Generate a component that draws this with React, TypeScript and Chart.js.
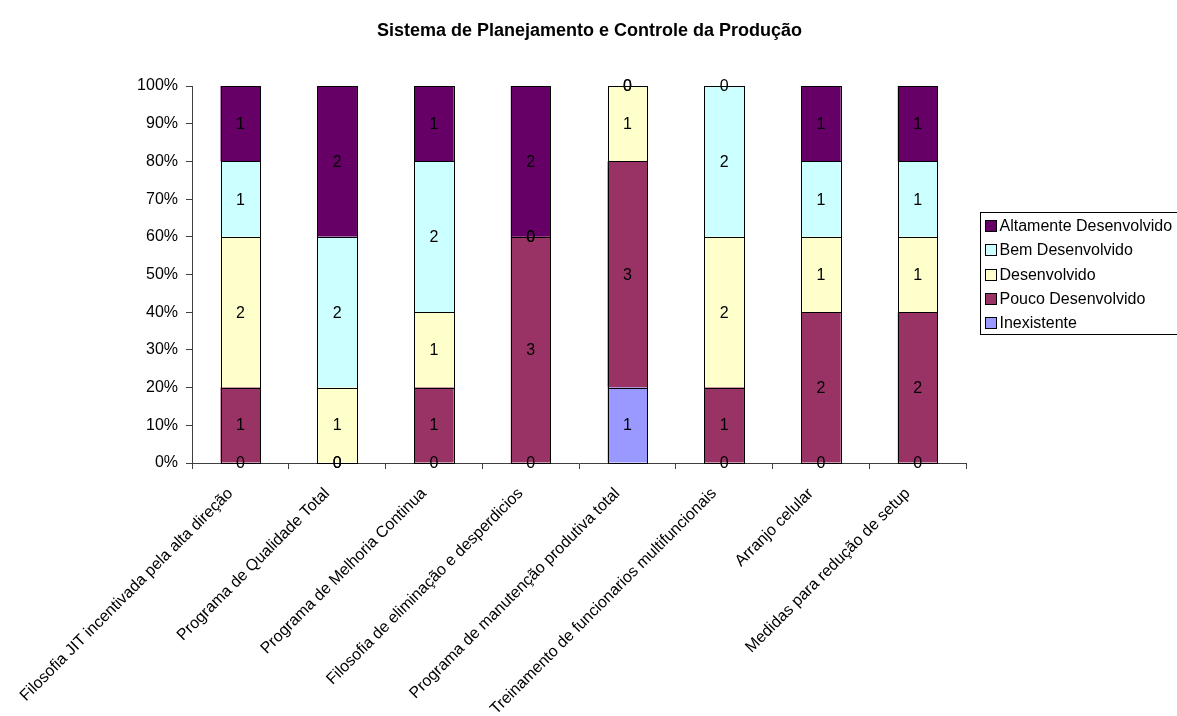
import React, { useEffect, useRef } from "react";
import { Chart, registerables } from "chart.js";

Chart.register(...registerables);

const TITLE = "Sistema de Planejamento e Controle da Produção";

const CATEGORIES = [
  "Filosofia JIT incentivada pela alta direção",
  "Programa de Qualidade Total",
  "Programa de Melhoria Continua",
  "Filosofia de eliminação e desperdicios",
  "Programa de manutenção produtiva total",
  "Treinamento de funcionarios multifuncionais",
  "Arranjo celular",
  "Medidas para redução de setup",
];

const SERIES_NAMES = [
  "Inexistente",
  "Pouco Desenvolvido",
  "Desenvolvido",
  "Bem Desenvolvido",
  "Altamente Desenvolvido",
];

const INEXISTENTE = [0, 0, 0, 0, 1, 0, 0, 0];
const POUCO_DESENVOLVIDO = [1, 0, 1, 3, 3, 1, 2, 2];
const DESENVOLVIDO = [2, 1, 1, 0, 1, 2, 1, 1];
const BEM_DESENVOLVIDO = [1, 2, 2, 0, 0, 2, 1, 1];
const ALTAMENTE_DESENVOLVIDO = [1, 2, 1, 2, 0, 0, 1, 1];

const SERIES_COLORS = ["#9999FF", "#993366", "#FFFFCC", "#CCFFFF", "#660066"];

const Y_MIN = 0;
const Y_MAX = 100;
const Y_STEP = 10;

const FONT = "'Liberation Sans', Arial, sans-serif";
const AXIS_COLOR = "#404040";

export default function App() {
  const ref = useRef<HTMLCanvasElement | null>(null);

  useEffect(() => {
    const canvas = ref.current;
    if (!canvas) return;

    const counts = [
      INEXISTENTE,
      POUCO_DESENVOLVIDO,
      DESENVOLVIDO,
      BEM_DESENVOLVIDO,
      ALTAMENTE_DESENVOLVIDO,
    ];
    const totals = CATEGORIES.map((_, i) =>
      counts.reduce((s, arr) => s + arr[i], 0)
    );

    const datasets = counts.map((arr, k) => ({
      label: SERIES_NAMES[k],
      data: arr.map((v, i) => (totals[i] ? (v / totals[i]) * 100 : 0)),
      counts: arr,
      backgroundColor: SERIES_COLORS[k],
      borderWidth: 0,
      categoryPercentage: 1,
      barPercentage: 0.41,
    }));

    const titlePlugin = {
      id: "excelTitle",
      afterDraw(chart: any) {
        const ctx = chart.ctx;
        ctx.save();
        ctx.font = `bold 18px ${FONT}`;
        ctx.fillStyle = "#000";
        ctx.textAlign = "center";
        ctx.textBaseline = "middle";
        ctx.fillText(TITLE, chart.width / 2 + 1, 31);
        ctx.restore();
      },
    };

    // Excel-style rotated category labels, anchored under each tick
    const xLabelPlugin = {
      id: "xLabels",
      afterDraw(chart: any) {
        const ctx = chart.ctx;
        const xs = chart.scales.x;
        ctx.save();
        ctx.font = `16px ${FONT}`;
        ctx.fillStyle = "#000";
        ctx.textAlign = "right";
        ctx.textBaseline = "middle";
        (chart.data.labels as string[]).forEach((lab, i) => {
          const x = xs.getPixelForTick(i) - 10;
          const y = xs.top + 28;
          ctx.save();
          ctx.translate(x, y);
          ctx.rotate(-Math.PI / 4);
          ctx.fillText(lab, 0, 0);
          ctx.restore();
        });
        ctx.restore();
      },
    };

    const labelPlugin = {
      id: "valueLabels",
      afterDatasetsDraw(chart: any) {
        const ctx = chart.ctx;
        ctx.save();
        ctx.strokeStyle = "#000";
        ctx.lineWidth = 1;
        chart.data.datasets.forEach((_ds: any, di: number) => {
          const meta = chart.getDatasetMeta(di);
          meta.data.forEach((el: any) => {
            const p = el.getProps(["x", "y", "base", "width"], true);
            const top = Math.round(Math.min(p.y, p.base));
            const bot = Math.round(Math.max(p.y, p.base));
            if (bot - top < 1) return;
            const l = Math.round(p.x - p.width / 2);
            const r = Math.round(p.x + p.width / 2);
            ctx.strokeRect(l + 0.5, top + 0.5, r - l, bot - top);
          });
        });
        ctx.font = `16px ${FONT}`;
        ctx.fillStyle = "#000";
        ctx.textAlign = "center";
        ctx.textBaseline = "middle";
        chart.data.datasets.forEach((ds: any, di: number) => {
          const meta = chart.getDatasetMeta(di);
          meta.data.forEach((el: any, i: number) => {
            const p = el.getProps(["x", "y", "base"], true);
            const cy = (p.y + p.base) / 2;
            ctx.fillText(String(ds.counts[i]), p.x, cy + 1);
          });
        });
        ctx.restore();
      },
    };

    const legendPlugin = {
      id: "excelLegend",
      afterDraw(chart: any) {
        const ctx = chart.ctx;
        ctx.save();
        ctx.strokeStyle = "#000";
        ctx.lineWidth = 1;
        ctx.fillStyle = "#fff";
        ctx.fillRect(980.5, 212.5, 210, 122);
        ctx.strokeRect(980.5, 212.5, 210, 122);
        ctx.font = `16px ${FONT}`;
        ctx.textAlign = "left";
        ctx.textBaseline = "middle";
        const ds = chart.data.datasets.slice().reverse();
        ds.forEach((d: any, k: number) => {
          const y = 225.5 + k * 24.3;
          const sy = Math.round(y - 5.5) + 0.5;
          ctx.fillStyle = d.backgroundColor;
          ctx.fillRect(985.5, sy, 11, 11);
          ctx.strokeStyle = "#000";
          ctx.strokeRect(985.5, sy, 11, 11);
          ctx.fillStyle = "#000";
          ctx.fillText(d.label, 999.5, y + 1);
        });
        ctx.restore();
      },
    };

    const chart = new Chart(canvas, {
      type: "bar",
      data: { labels: CATEGORIES, datasets: datasets as any },
      options: {
        responsive: false,
        animation: false,
        layout: { padding: { top: 86, right: 211, left: 0, bottom: 0 } },
        plugins: {
          legend: { display: false },
          title: { display: false },
          tooltip: { enabled: false },
        },
        scales: {
          x: {
            stacked: true,
            offset: true,
            grid: {
              offset: true,
              drawOnChartArea: false,
              drawTicks: true,
              tickLength: 6,
              color: AXIS_COLOR,
            },
            border: { color: AXIS_COLOR, width: 1 },
            ticks: {
              display: false,
              autoSkip: false,
            },
            afterFit: (s: any) => {
              s.height = 253;
              s.paddingLeft = 0;
              s.paddingRight = 0;
            },
          },
          y: {
            stacked: true,
            min: Y_MIN,
            max: Y_MAX,
            grid: {
              drawOnChartArea: false,
              drawTicks: true,
              tickLength: 6,
              color: AXIS_COLOR,
            },
            border: { color: AXIS_COLOR, width: 1 },
            ticks: {
              stepSize: Y_STEP,
              padding: 8,
              color: "#000",
              font: { family: FONT, size: 16 },
              callback: (v: any) => `${v}%`,
            },
            afterFit: (s: any) => {
              s.width = 192;
            },
          },
        },
      } as any,
      plugins: [titlePlugin, labelPlugin, xLabelPlugin, legendPlugin],
    });

    return () => chart.destroy();
  }, []);

  return (
    <canvas
      ref={ref}
      width={1177}
      height={716}
      style={{ position: "absolute", left: 0, top: 0, display: "block" }}
    />
  );
}
